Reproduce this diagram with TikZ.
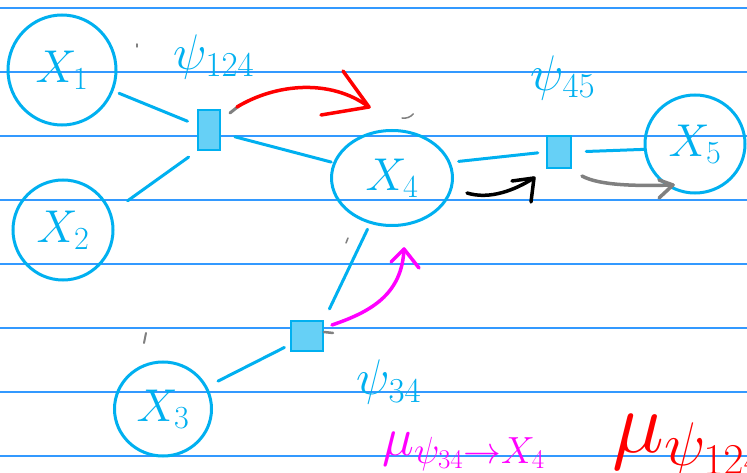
\RequirePackage{fix-cm}
\documentclass[tikz,border=0pt]{standalone}
\usetikzlibrary{shapes.geometric,calc}
\definecolor{ink}{RGB}{0,176,240}
\definecolor{ruleblue}{RGB}{51,153,255}
\definecolor{mag}{RGB}{255,0,255}
\definecolor{pencil}{RGB}{128,128,128}
\begin{document}
\begin{tikzpicture}[x=1pt,y=-1pt,
 var/.style={draw=ink, line width=3pt, ellipse, inner sep=0pt, text=ink, font=\fontsize{46}{50}\selectfont},
 fac/.style={draw=ink, fill=ink!60, line width=2.5pt, rectangle, inner sep=0pt},
 edge/.style={draw=ink, line width=3pt, line cap=round},
 lbl/.style={text=ink, font=\fontsize{50}{54}\selectfont, inner sep=0pt},
 msg/.style={line width=3.5pt, line cap=round, line join=round},
 stray/.style={draw=pencil, line width=1.5pt, line cap=round}]
\useasboundingbox (0,0) rectangle (747,473);
\clip (0,0) rectangle (747,473);
\fill[white] (0,0) rectangle (747,473);
\foreach \y in {8,72,...,456} \draw[ruleblue, line width=1.2pt] (0,\y) -- (747,\y);

% variable nodes
\node[var, minimum width=108pt, minimum height=110pt] (x1) at (62,70) {$X_1$};
\node[var, minimum width=100pt, minimum height=100pt] (x2) at (63,230) {$X_2$};
\node[var, minimum width=97pt, minimum height=94pt] (x3) at (163,409) {$X_3$};
\node[var, minimum width=121pt, minimum height=95pt] (x4) at (392,178) {$X_4$};
\node[var, minimum width=100pt, minimum height=98pt] (x5) at (695,144) {$X_5$};

% factor nodes
\node[fac, minimum width=22pt, minimum height=40pt] (f124) at (209,130) {};
\node[fac, minimum width=24pt, minimum height=32pt] (f45) at (559,152) {};
\node[fac, minimum width=32pt, minimum height=30pt] (f34) at (307,336) {};

% factor labels
\node[lbl] (l124) at (214,57) {$\psi_{124}$};
\node[lbl] (l45) at (563,78) {$\psi_{45}$};
\node[lbl] (l34) at (389,382) {$\psi_{34}$};

% edges
\draw[edge, shorten <=6pt, shorten >=10pt] (x1) -- (f124);
\draw[edge, shorten <=20pt, shorten >=10pt] (x2.20) -- (f124.south west);
\draw[edge, shorten <=14pt, shorten >=2pt] (f124) -- (x4);
\draw[edge, shorten <=8pt, shorten >=8pt] (x4.15) -- (f45.west);
\draw[edge, shorten <=14pt] (f45.east) -- (x5.186);
\draw[edge, shorten <=12pt, shorten >=6pt] (x3) -- (f34);
\draw[edge, shorten <=12pt, shorten >=6pt] (f34.north east) -- (x4);

% messages
\coordinate (r1) at (237,107);
\coordinate (r2) at (369,107);
\draw[stray, line width=3pt] (230,113) -- (240,105);
\draw[red, msg] (r1) .. controls (275,84) and (330,78) .. (r2);
\draw[red, msg] (343,71) -- (r2) -- (321,115);

\coordinate (b1) at (467,193);
\coordinate (b2) at (534,178);
\draw[black, msg] (b1) .. controls (490,200) and (515,190) .. (b2);
\draw[black, msg] (512,181) -- (b2) -- (531,202);

\coordinate (g1) at (582,176);
\coordinate (g2) at (673,185);
\draw[pencil, msg] (g1) .. controls (600,186) and (640,186) .. (g2);
\draw[pencil, msg] (659,180) -- (g2) -- (659,198);

\coordinate (m1) at (332,325);
\coordinate (m2) at (404,249);
\draw[mag, msg] (m1) .. controls (370,312) and (402,295) .. (m2);
\draw[mag, msg] (391,262) -- (m2) -- (419,268);

% stray pencil marks
\draw[stray] (137,44) -- (137,47);
\draw[stray, line width=2pt] (146,333) -- (144,343);
\draw[stray] (402,118) arc (100:40:12);
\draw[stray] (348,238) -- (346,243);
\draw[stray, line width=2.5pt] (324,332) -- (333,333);

% bottom annotations
\node[anchor=base west, text=mag, inner sep=0pt, font=\fontsize{54}{58}\selectfont] (mu34) at (382,455) {$\mu_{\psi_{34}\to X_4}$};
\node[anchor=base west, text=red, inner sep=0pt, font=\fontsize{88}{92}\selectfont] (mu124) at (612,452) {$\mu_{\psi_{124}}$};
\end{tikzpicture}
\end{document}
